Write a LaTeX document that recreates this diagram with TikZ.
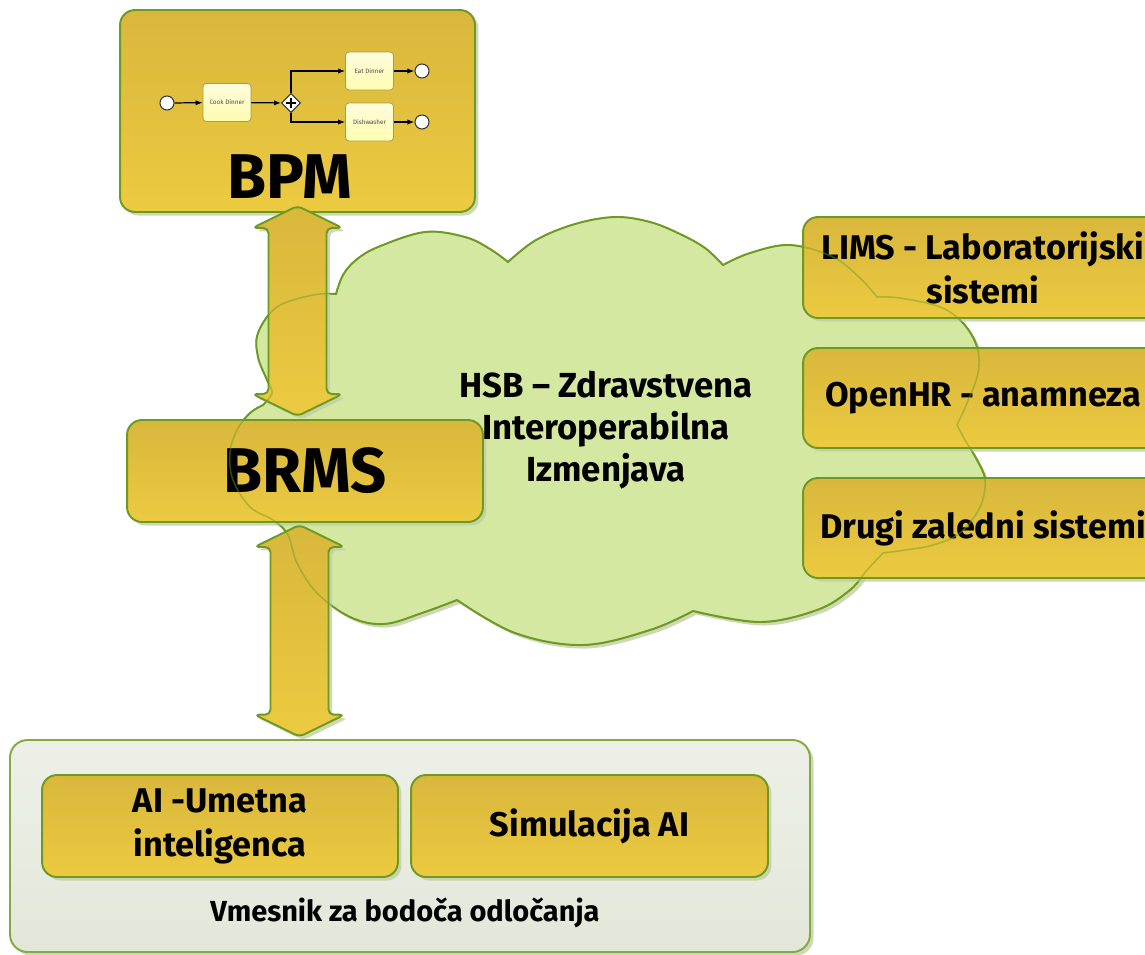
\documentclass[tikz,border=0pt]{standalone}
\usepackage{fontspec}
\setmainfont{Fira Sans}
\usetikzlibrary{calc,shadows,shapes.geometric,arrows.meta}

\definecolor{goldtop}{HTML}{D8B73C}
\definecolor{goldbot}{HTML}{ECCA40}
\definecolor{leaf}{HTML}{6C9A22}
\definecolor{cloudfill}{HTML}{D4E8A2}
\definecolor{paneltop}{HTML}{EEF0E8}
\definecolor{panelbot}{HTML}{E3E7D9}
\definecolor{shadowc}{HTML}{C3CDA2}
\definecolor{taskfill}{HTML}{FFFCDC}
\definecolor{taskline}{HTML}{A89A50}

\tikzset{
  softshadow/.style={drop shadow={shadow xshift=2pt,shadow yshift=-2pt,fill=shadowc,opacity=.8}},
  goldbox/.style={draw=leaf,line width=1.1pt,rounded corners=8.5pt,top color=goldtop,bottom color=goldbot,
    softshadow,font=\bfseries,align=center,inner sep=0pt},
  bigarrow/.style={draw=leaf,line width=1.1pt,rounded corners=3pt,top color=goldtop,bottom color=goldbot,softshadow},
  cloud/.style={draw=leaf,line width=1.1pt,fill=cloudfill,softshadow},
  cloudline/.style={draw=leaf,line width=.9pt,draw opacity=.45},
  panel/.style={draw=leaf!85!white,line width=1.1pt,rounded corners=10pt,top color=paneltop,bottom color=panelbot,softshadow},
  task/.style={draw=taskline,top color=taskfill,bottom color=taskfill!80!yellow,rounded corners=2pt,
    minimum width=.96cm,minimum height=.76cm,inner sep=0pt,font=\fontsize{3.6}{4}\selectfont,text=black!70},
  event/.style={circle,draw=black!80,line width=.6pt,fill=white,minimum size=.28cm,inner sep=0pt},
  gateway/.style={diamond,draw=black!80,line width=.6pt,fill=white,minimum size=.38cm,inner sep=0pt},
  flow/.style={-{Latex[length=4pt,width=3pt]},line width=.7pt},
  boxtext/.style={font=\fontsize{19.5}{25}\selectfont\bfseries}
}

\newcommand{\bigdarrow}[2]{%
  \path[bigarrow] (#1) -- ++(45,22) -- ++(-16,0) -- ($(#2)+(29,-22)$) -- ++(16,0) -- (#2)
    -- ++(-45,-22) -- ++(16,0) -- ($(#1)+(-29,22)$) -- ++(-16,0) -- cycle;}

\begin{document}
\begin{tikzpicture}[x=0.02cm,y=-0.02cm]
\useasboundingbox (0,0) rectangle (1145,954);

\path[cloud,save path=\cloudshape]
  plot[smooth,tension=.6] coordinates {(336,294) (343,275) (356,260) (378,247) (425,232) (465,237) (490,249) (508,262)}
  -- plot[smooth,tension=.6] coordinates {(508,262) (536,240) (575,224) (615,217) (650,222) (680,234) (705,248) (723,265)}
  -- plot[smooth,tension=.6] coordinates {(723,265) (750,253) (790,245) (833,257) (860,278) (877,297)}
  -- plot[smooth,tension=.6] coordinates {(877,297) (900,298) (940,307) (963,323) (977,347) (978,373) (967,403) (957,425)}
  -- plot[smooth,tension=.6] coordinates {(957,425) (965,440) (977,460) (985,480) (980,507) (960,533) (933,545) (905,550) (883,553)}
  -- plot[smooth,tension=.6] coordinates {(883,553) (867,570) (850,590) (817,610) (760,622) (693,611)}
  -- plot[smooth,tension=.6] coordinates {(693,611) (650,630) (583,645) (515,633) (457,600)}
  -- plot[smooth,tension=.6] coordinates {(457,600) (422,613) (384,624) (350,617) (317,593) (297,563) (288,535) (273,520) (250,507) (233,480) (230,453) (237,430) (250,413) (263,405)}
  -- plot[smooth,tension=.6] coordinates {(263,405) (272,393) (267,380) (258,357) (258,333) (277,307) (313,295) (336,294)}
  -- cycle;

\node[goldbox,minimum width=7.1cm,minimum height=4.04cm] (bpm) at (297.5,111) {};
\node[event] (start) at (167,103) {};
\node[task] (cook) at (227,102.5) {Cook Dinner};
\node[gateway] (gw) at (291,103) {};
\draw[line width=.9pt] ($(gw)+(-5,0)$) -- ($(gw)+(5,0)$) ($(gw)+(0,-5)$) -- ($(gw)+(0,5)$);
\node[task] (eat) at (369.5,71) {Eat Dinner};
\node[task] (dish) at (369.5,122) {Dishwasher};
\node[event] (end1) at (422,71) {};
\node[event] (end2) at (422,122) {};
\draw[flow] (start) -- (cook);
\draw[flow] (cook) -- (gw);
\draw[flow] (gw.north) |- (eat);
\draw[flow] (gw.south) |- (dish);
\draw[flow] (eat) -- (end1);
\draw[flow] (dish) -- (end2);
\node[font=\fontsize{36}{42}\selectfont\bfseries] (bpmlabel) at (290,177) {BPM};

\node[goldbox,minimum width=7.12cm,minimum height=2.04cm,font=\fontsize{36}{40}\selectfont\bfseries] (brms) at (305,471) {\raisebox{-2.5pt}{BRMS}};

\node[goldbox,boxtext,minimum width=7.2cm,minimum height=2.02cm] (lims) at (983,267.5) {LIMS - Laboratorijski\\sistemi};
\node[goldbox,boxtext,minimum width=7.2cm,minimum height=2.0cm] (openhr) at (983,398) {OpenHR - anamneza};
\node[goldbox,boxtext,minimum width=7.2cm,minimum height=2.0cm] (drugi) at (983,528) {Drugi zaledni sistemi};

\path[panel] (10,740) rectangle (810,952);
\node[minimum width=16cm,minimum height=4.24cm] (vmesnik) at (410,846) {};
\node[goldbox,boxtext,minimum width=7.12cm,minimum height=2.04cm] (ai) at (220,826) {AI -Umetna\\inteligenca};
\node[goldbox,boxtext,minimum width=7.14cm,minimum height=2.04cm] (sim) at (589.5,826) {Simulacija AI};
\node[font=\fontsize{16.5}{18}\selectfont\bfseries] (vmlabel) at (405,913) {Vmesnik za bodoča odločanja};

\coordinate (ua) at ($(bpm.south)+(0,-7)$);
\coordinate (ub) at ($(bpm.south |- brms.north)+(0,-3)$);
\coordinate (la) at ($(bpm.south |- brms.south)+(2,2)$);
\coordinate (lb) at ($(bpm.south |- vmesnik.north)+(2,-3)$);
\bigdarrow{ua}{ub}
\bigdarrow{la}{lb}

\path[cloudline,use path=\cloudshape];

\node[align=center,font=\fontsize{19.8}{24}\selectfont\bfseries] (hsb) at (606,430) {HSB – Zdravstvena\\Interoperabilna\\Izmenjava};
\end{tikzpicture}
\end{document}
